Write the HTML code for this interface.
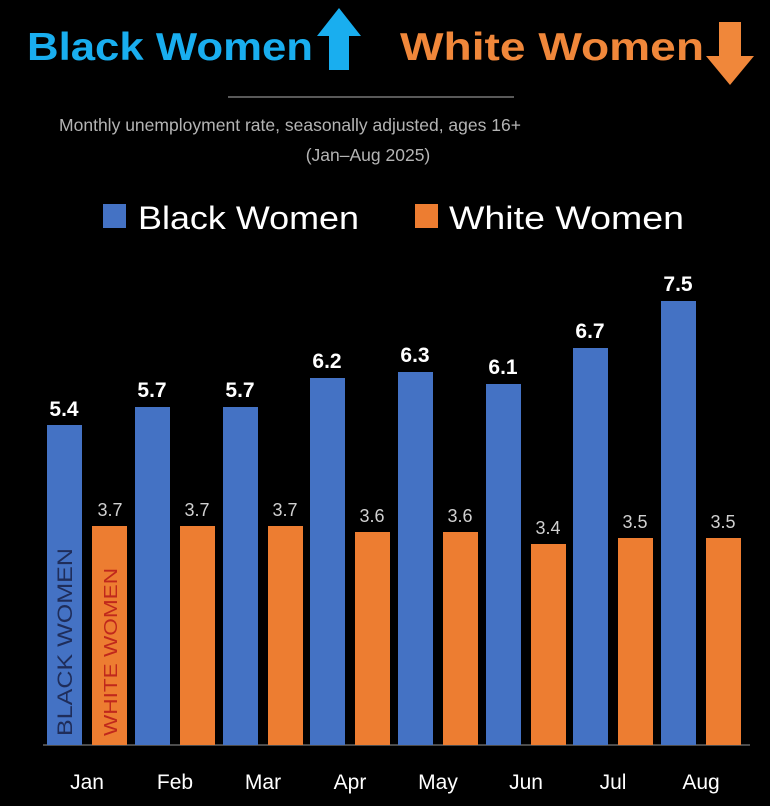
<!DOCTYPE html>
<html><head><meta charset="utf-8"><style>
body{margin:0;background:#000;}
svg{display:block}
</style></head><body>
<svg width="770" height="806" viewBox="0 0 770 806" xmlns="http://www.w3.org/2000/svg" font-family="Liberation Sans, sans-serif">
<rect width="770" height="806" fill="#000"/>
<text x="27" y="60" font-size="39" font-weight="bold" fill="#19aeef" textLength="286" lengthAdjust="spacingAndGlyphs">Black Women</text>
<polygon points="339,8 361,36 349,36 349,70 329,70 329,36 317,36" fill="#19aeef"/>
<text x="400" y="60" font-size="39" font-weight="bold" fill="#f0873a" textLength="304" lengthAdjust="spacingAndGlyphs">White Women</text>
<polygon points="730,85 754,56 741,56 741,22 719,22 719,56 706,56" fill="#f0873a"/>
<line x1="228" y1="97" x2="514" y2="97" stroke="#777" stroke-width="1.5"/>
<text x="290" y="131" font-size="17.5" fill="#b4b4b4" text-anchor="middle" textLength="462" lengthAdjust="spacingAndGlyphs">Monthly unemployment rate, seasonally adjusted, ages 16+</text>
<text x="368" y="161" font-size="17.5" fill="#b4b4b4" text-anchor="middle">(Jan–Aug 2025)</text>
<rect x="103" y="204" width="23" height="24" fill="#4472c4"/>
<text x="138" y="229" font-size="32" fill="#fff" textLength="221" lengthAdjust="spacingAndGlyphs">Black Women</text>
<rect x="415" y="204" width="23" height="24" fill="#ed7d31"/>
<text x="449" y="229" font-size="32" fill="#fff" textLength="235" lengthAdjust="spacingAndGlyphs">White Women</text>
<line x1="43" y1="745" x2="750" y2="745" stroke="#999" stroke-width="1"/>
<g fill="#4472c4">
<rect x="47" y="425" width="35" height="320"/>
<rect x="135" y="407" width="35" height="338"/>
<rect x="223" y="407" width="35" height="338"/>
<rect x="310" y="378" width="35" height="367"/>
<rect x="398" y="372" width="35" height="373"/>
<rect x="486" y="384" width="35" height="361"/>
<rect x="573" y="348" width="35" height="397"/>
<rect x="661" y="301" width="35" height="444"/>
</g>
<g fill="#ed7d31">
<rect x="92" y="526" width="35" height="219"/>
<rect x="180" y="526" width="35" height="219"/>
<rect x="268" y="526" width="35" height="219"/>
<rect x="355" y="532" width="35" height="213"/>
<rect x="443" y="532" width="35" height="213"/>
<rect x="531" y="544" width="35" height="201"/>
<rect x="618" y="538" width="35" height="207"/>
<rect x="706" y="538" width="35" height="207"/>
</g>
<g font-size="21" font-weight="bold" fill="#fff" text-anchor="middle">
<text x="64" y="416">5.4</text>
<text x="152" y="397">5.7</text>
<text x="240" y="397">5.7</text>
<text x="327" y="368">6.2</text>
<text x="415" y="362">6.3</text>
<text x="503" y="374">6.1</text>
<text x="590" y="338">6.7</text>
<text x="678" y="291">7.5</text>
</g>
<g font-size="18" fill="#d0d0d0" text-anchor="middle">
<text x="110" y="516">3.7</text>
<text x="197" y="516">3.7</text>
<text x="285" y="516">3.7</text>
<text x="372" y="522">3.6</text>
<text x="460" y="522">3.6</text>
<text x="548" y="534">3.4</text>
<text x="635" y="528">3.5</text>
<text x="723" y="528">3.5</text>
</g>
<text transform="translate(72,736) rotate(-90)" font-size="21" fill="#1f2d5a" textLength="188" lengthAdjust="spacingAndGlyphs">BLACK WOMEN</text>
<text transform="translate(117,736) rotate(-90)" font-size="18" fill="#c0281c" textLength="168" lengthAdjust="spacingAndGlyphs">WHITE WOMEN</text>
<g font-size="21" fill="#fff" text-anchor="middle">
<text x="87" y="789">Jan</text>
<text x="175" y="789">Feb</text>
<text x="263" y="789">Mar</text>
<text x="350" y="789">Apr</text>
<text x="438" y="789">May</text>
<text x="526" y="789">Jun</text>
<text x="613" y="789">Jul</text>
<text x="701" y="789">Aug</text>
</g>
</svg>
</body></html>
